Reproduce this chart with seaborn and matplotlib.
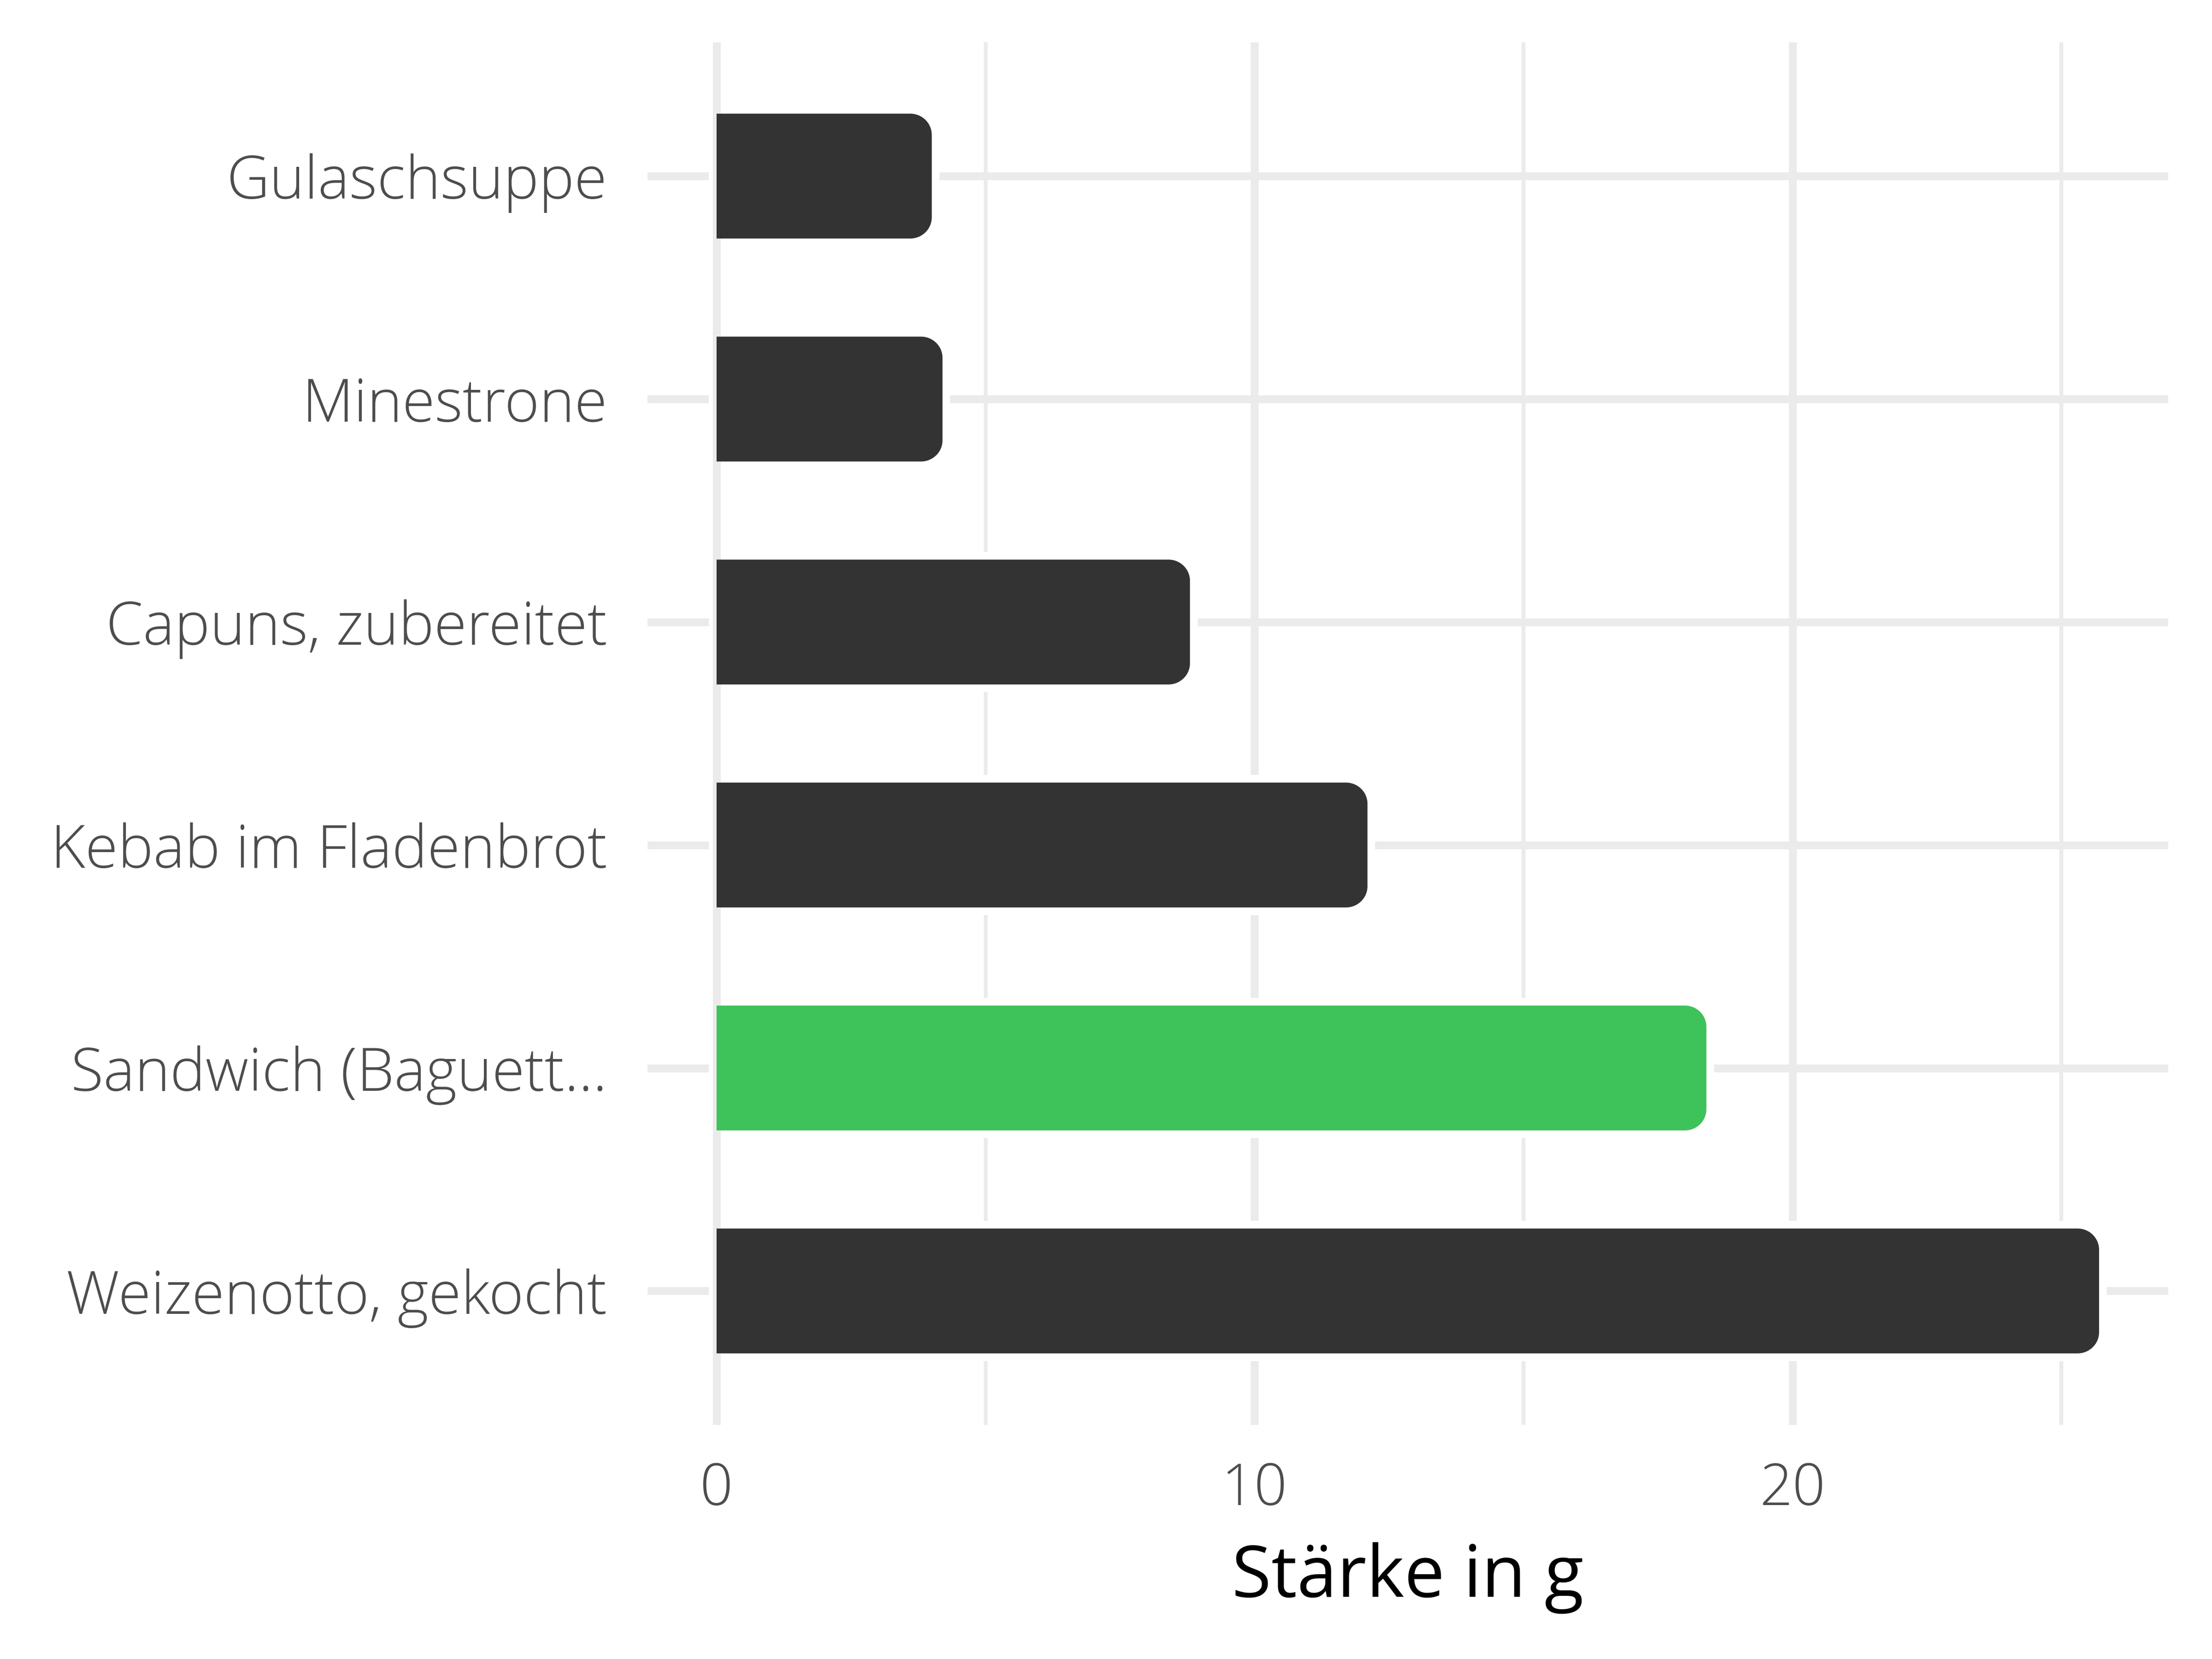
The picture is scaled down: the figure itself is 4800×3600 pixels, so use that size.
import matplotlib
matplotlib.use("Agg")
import matplotlib.pyplot as plt
import seaborn as sns
from matplotlib.path import Path
from matplotlib.patches import PathPatch
from matplotlib.ticker import MultipleLocator

sns.set_theme(style="white")
plt.rcParams['font.family'] = ['Open Sans', 'DejaVu Sans']
plt.rcParams['font.weight'] = 300

foods = ["Gulaschsuppe", "Minestrone", "Capuns, zubereitet", "Kebab im Fladenbrot",
         "Sandwich (Baguett...", "Weizenotto, gekocht"]
starch = [4.0, 4.2, 8.8, 12.1, 18.4, 25.7]
colors = ["#333333", "#333333", "#333333", "#333333", "#3EC25A", "#333333"]

GRID = "#EBEBEB"


def right_rounded(x0, y0, x1, y1, rx, ry):
    # rectangle with square left side, rounded right corners
    k = 0.5523
    verts = [(x0, y0), (x1 - rx, y0),
             (x1 - rx + k * rx, y0), (x1, y0 + ry - k * ry), (x1, y0 + ry),
             (x1, y1 - ry),
             (x1, y1 - ry + k * ry), (x1 - rx + k * rx, y1), (x1 - rx, y1),
             (x0, y1), (x0, y0)]
    codes = [Path.MOVETO, Path.LINETO,
             Path.CURVE4, Path.CURVE4, Path.CURVE4,
             Path.LINETO,
             Path.CURVE4, Path.CURVE4, Path.CURVE4,
             Path.LINETO, Path.CLOSEPOLY]
    return Path(verts, codes)


fig = plt.figure(figsize=(16, 12), dpi=300)
ax = fig.add_axes([0.2927, 0.1412, 0.6875, 0.8333])

sns.barplot(x=starch, y=foods, hue=foods, palette=colors, orient="h",
            width=0.56, legend=False, ax=ax, saturation=1)

ax.set_xlim(-1.285, 26.985)
ax.set_ylim(5.6, -0.6)
ax.xaxis.set_major_locator(MultipleLocator(10))
ax.xaxis.set_minor_locator(MultipleLocator(5))
ax.grid(which="major", axis="both", color=GRID, lw=4.1)
ax.grid(which="minor", axis="x", color=GRID, lw=2.0)
ax.set_axisbelow(True)
for s in ax.spines.values():
    s.set_visible(False)
ax.tick_params(axis="both", which="both", length=0)
ax.tick_params(axis="y", pad=21, labelsize=31, labelcolor="#4D4D4D")
ax.tick_params(axis="x", pad=19, labelsize=30, labelcolor="#4D4D4D")
ax.set_ylabel("")
ax.set_xlabel("Stärke in g", fontsize=37.5, color="black", labelpad=12)

# swap the plain bars for ones with rounded right ends
rx, ry = 0.4, 0.095
for p in list(ax.patches):
    x0, y0 = p.get_x(), p.get_y()
    x1, y1 = x0 + p.get_width(), y0 + p.get_height()
    fc = p.get_facecolor()
    p.remove()
    path = right_rounded(x0, y0, x1, y1, rx, ry)
    ax.add_patch(PathPatch(path, facecolor="white", edgecolor="white", lw=8, zorder=1.5))
    ax.add_patch(PathPatch(path, facecolor=fc, edgecolor="none", zorder=2))

ax.axvline(0, color=GRID, lw=4.1, zorder=1.7)

fig.savefig("out.png", dpi=300, facecolor="white")
